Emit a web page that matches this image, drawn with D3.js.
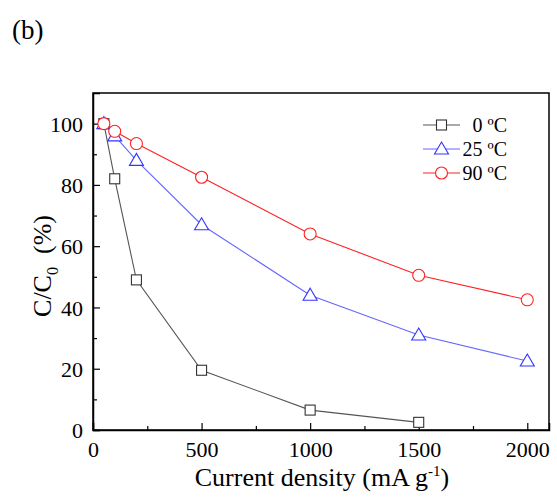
<!DOCTYPE html>
<html>
<head>
<meta charset="utf-8">
<script src="https://cdn.jsdelivr.net/npm/d3@7"></script>
</head>
<body style="margin:0; background:#fff">
<script>
const currentDensity = [50, 100, 200, 500, 1000, 1500, 2000];
const cap0 = [100, 82, 49, 19.5, 6.5, 2.5];
const cap25 = [100, 96, 88, 67, 44, 31, 22.5];
const cap90 = [100, 97.5, 93.5, 82.5, 64, 50.5, 42.5];
const seriesNames = ['0 ºC', '25 ºC', '90 ºC'];
const xTicks = [0, 500, 1000, 1500, 2000];
const yTicks = [0, 20, 40, 60, 80, 100];

drawChart();

function drawChart()
{
    const width = 557;
    const height = 497;
    const margin = {left: 93, right: 8, top: 93, bottom: 67};

    const svg = d3.select('body')
        .append('svg')
        .attr('width', width)
        .attr('height', height);

    const x = d3.scaleLinear().domain([0, 2100]).range([margin.left, width - margin.right]);
    const y = d3.scaleLinear().domain([0, 110]).range([height - margin.bottom, margin.top]);

    const series = [
        {name: seriesNames[0], values: cap0, color: '#333', line: '#555', shape: 'square'},
        {name: seriesNames[1], values: cap25, color: '#3333ff', line: '#6666ff', shape: 'triangle'},
        {name: seriesNames[2], values: cap90, color: '#ff2222', line: '#ff2222', shape: 'circle'}
    ];

    // frame
    svg.append('rect')
        .attr('x', margin.left)
        .attr('y', margin.top)
        .attr('width', width - margin.right - margin.left)
        .attr('height', height - margin.bottom - margin.top)
        .attr('fill', 'none')
        .attr('stroke', '#000')
        .attr('stroke-width', 1.5);

    // x axis, ticks inside
    const xAxis = svg.append('g')
        .attr('transform', `translate(0, ${height - margin.bottom})`)
        .call(d3.axisBottom(x).tickValues(xTicks).tickSize(-7).tickPadding(11).tickFormat(d3.format('d')));
    svg.append('g')
        .attr('transform', `translate(0, ${height - margin.bottom})`)
        .call(d3.axisBottom(x).tickValues([250, 750, 1250, 1750]).tickSize(-4).tickFormat(''))
        .call(g => g.select('.domain').remove());

    const yAxis = svg.append('g')
        .attr('transform', `translate(${margin.left}, 0)`)
        .call(d3.axisLeft(y).tickValues(yTicks).tickSize(-7).tickPadding(10));
    svg.append('g')
        .attr('transform', `translate(${margin.left}, 0)`)
        .call(d3.axisLeft(y).tickValues([10, 30, 50, 70, 90]).tickSize(-4).tickFormat(''))
        .call(g => g.select('.domain').remove());

    svg.selectAll('g').attr('font-family', null);
    svg.selectAll('.tick line').attr('stroke', '#000').attr('stroke-width', 1.2);
    svg.selectAll('.domain').attr('stroke', '#000').attr('stroke-width', 1.5);
    xAxis.selectAll('text').attr('font-size', 22).attr('fill', '#000');
    yAxis.selectAll('text').attr('font-size', 22).attr('fill', '#000').attr('dy', '0.35em');

    const line = d3.line().x(d => x(d[0])).y(d => y(d[1]));

    series.forEach(s =>
    {
        const pts = s.values.map((v, i) => [currentDensity[i], v]);
        svg.append('path')
            .datum(pts)
            .attr('d', line)
            .attr('fill', 'none')
            .attr('stroke', s.line)
            .attr('stroke-width', 1.1);
        pts.forEach(p => drawMarker(svg, s.shape, x(p[0]), y(p[1]), s.color));
    });

    // legend
    const legend = svg.append('g');
    series.forEach((s, i) =>
    {
        const ly = 125 + i * 24;
        legend.append('line')
            .attr('x1', 423).attr('x2', 460)
            .attr('y1', ly).attr('y2', ly)
            .attr('stroke', s.line).attr('stroke-width', 1.1);
        drawMarker(legend, s.shape, 441.5, ly, s.color);
        legend.append('text')
            .attr('x', 507)
            .attr('y', ly)
            .attr('dy', '0.35em')
            .attr('text-anchor', 'end')
            .attr('font-size', 20)
            .text(s.name);
    });

    // panel label
    svg.append('text')
        .attr('x', 12)
        .attr('y', 39)
        .attr('font-size', 27)
        .text('(b)');

    // axis titles
    const xt = svg.append('text')
        .attr('x', 322)
        .attr('y', 486)
        .attr('text-anchor', 'middle')
        .attr('font-size', 26);
    xt.append('tspan').text('Current density (mA g');
    xt.append('tspan').attr('dy', -10).attr('font-size', 15).text('-1');
    xt.append('tspan').attr('dy', 10).text(')');

    const yt = svg.append('text')
        .attr('transform', 'translate(51, 266) rotate(-90)')
        .attr('text-anchor', 'middle')
        .attr('font-size', 26);
    yt.append('tspan').text('C/C');
    yt.append('tspan').attr('dy', 7).attr('font-size', 16).text('0');
    yt.append('tspan').attr('dy', -7).text('\u00a0\u00a0(%)');

    svg.selectAll('text')
        .attr('font-family', 'Liberation Serif')
        .style('font-family', '"Liberation Serif"');
}

function drawMarker(parent, shape, cx, cy, color)
{
    if (shape === 'square')
    {
        parent.append('rect')
            .attr('x', cx - 5).attr('y', cy - 5)
            .attr('width', 10).attr('height', 10)
            .attr('fill', '#fff').attr('stroke', color).attr('stroke-width', 1.1);
    }
    else if (shape === 'triangle')
    {
        parent.append('path')
            .attr('d', `M${cx},${cy - 7}L${cx + 7},${cy + 5}L${cx - 7},${cy + 5}Z`)
            .attr('fill', '#fff').attr('stroke', color).attr('stroke-width', 1.1);
    }
    else
    {
        parent.append('circle')
            .attr('cx', cx).attr('cy', cy).attr('r', 6)
            .attr('fill', '#fff').attr('stroke', color).attr('stroke-width', 1.1);
    }
}
</script>
</body>
</html>
